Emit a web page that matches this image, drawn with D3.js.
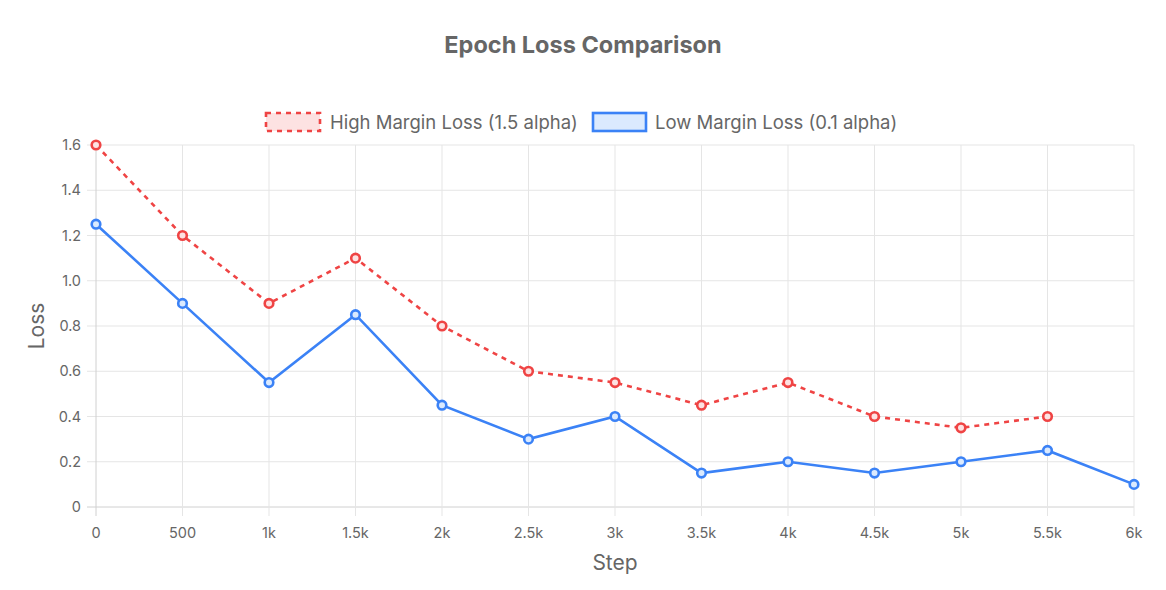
<!DOCTYPE html>
<html><head><meta charset="utf-8">
<script src="https://cdn.jsdelivr.net/npm/d3@7"></script>
<style>body{margin:0;background:#fff;}svg{display:block;font-family:Inter,"Noto Sans",sans-serif;}</style>
</head><body>
<svg id="c" width="1166" height="590"></svg>
<script>
const steps = [0,500,1000,1500,2000,2500,3000,3500,4000,4500,5000,5500,6000];
const highLoss = [1.6,1.2,0.9,1.1,0.8,0.6,0.55,0.45,0.55,0.4,0.35,0.4];
const lowLoss = [1.25,0.9,0.55,0.85,0.45,0.3,0.4,0.15,0.2,0.15,0.2,0.25,0.1];
const yTicks = [0,0.2,0.4,0.6,0.8,1.0,1.2,1.4,1.6];
const xTickLabels = ["0","500","1k","1.5k","2k","2.5k","3k","3.5k","4k","4.5k","5k","5.5k","6k"];
const seriesNames = ["High Margin Loss (1.5 alpha)","Low Margin Loss (0.1 alpha)"];

const svg = d3.select("#c");
const L=96,R=1134,T=145,B=507;
const x = d3.scaleLinear().domain([0,6000]).range([L,R]);
const y = d3.scaleLinear().domain([0,1.6]).range([B,T]);
const grid="#e5e5e5", txt="#666666";

svg.append("g").selectAll("line").data(yTicks).join("line")
  .attr("x1",L-9).attr("x2",R).attr("y1",d=>y(d)).attr("y2",d=>y(d))
  .attr("stroke",d=>d===0?"#d0d0d0":grid).attr("stroke-width",1);
svg.append("g").selectAll("line").data(steps).join("line")
  .attr("y1",T).attr("y2",B+9).attr("x1",d=>x(d)).attr("x2",d=>x(d))
  .attr("stroke",(d,i)=>i===0?"#d0d0d0":grid).attr("stroke-width",1);

svg.append("g").selectAll("text").data(yTicks).join("text")
  .attr("x",L-15).attr("y",d=>y(d)).attr("dy","0.35em").attr("text-anchor","end")
  .attr("font-size",14.5).attr("fill",txt).text(d=>d===0?"0":d.toFixed(1));
svg.append("g").selectAll("text").data(steps).join("text")
  .attr("x",d=>x(d)).attr("y",B+31).attr("text-anchor","middle")
  .attr("font-size",14.5).attr("fill",txt).text((d,i)=>xTickLabels[i]);

svg.append("text").attr("x",(L+R)/2).attr("y",570).attr("text-anchor","middle")
  .attr("font-size",21).attr("fill",txt).text("Step");
svg.append("text").attr("transform","translate(44,326) rotate(-90)").attr("text-anchor","middle")
  .attr("font-size",21).attr("fill",txt).text("Loss");

svg.append("text").attr("x",583).attr("y",53).attr("text-anchor","middle")
  .attr("font-size",23.5).attr("font-weight","bold").attr("fill",txt).text("Epoch Loss Comparison");

const red="#ef4444", blue="#3b82f6";
const line=d3.line().x((d,i)=>x(steps[i])).y(d=>y(d));
svg.append("path").datum(highLoss).attr("d",line).attr("fill","none")
  .attr("stroke",red).attr("stroke-width",2.6).attr("stroke-dasharray","5,5");
svg.append("path").datum(lowLoss).attr("d",line).attr("fill","none")
  .attr("stroke",blue).attr("stroke-width",2.6);
svg.append("g").selectAll("circle").data(highLoss).join("circle")
  .attr("cx",(d,i)=>x(steps[i])).attr("cy",d=>y(d)).attr("r",4.3)
  .attr("fill","#fde2e2").attr("stroke",red).attr("stroke-width",2.6);
svg.append("g").selectAll("circle").data(lowLoss).join("circle")
  .attr("cx",(d,i)=>x(steps[i])).attr("cy",d=>y(d)).attr("r",4.3)
  .attr("fill","#dbeafe").attr("stroke",blue).attr("stroke-width",2.6);

const lg=svg.append("g");
lg.append("rect").attr("x",266).attr("y",113).attr("width",54).attr("height",18)
  .attr("fill","#fde2e2").attr("stroke",red).attr("stroke-width",2.6).attr("stroke-dasharray","5,5");
lg.append("text").attr("x",330).attr("y",122).attr("dy","0.36em").attr("font-size",18.5).attr("fill",txt).text(seriesNames[0]);
lg.append("rect").attr("x",593).attr("y",113).attr("width",53).attr("height",18)
  .attr("fill","#dbeafe").attr("stroke",blue).attr("stroke-width",2.6);
lg.append("text").attr("x",655).attr("y",122).attr("dy","0.36em").attr("font-size",18.5).attr("fill",txt).text(seriesNames[1]);
</script>
</body></html>
